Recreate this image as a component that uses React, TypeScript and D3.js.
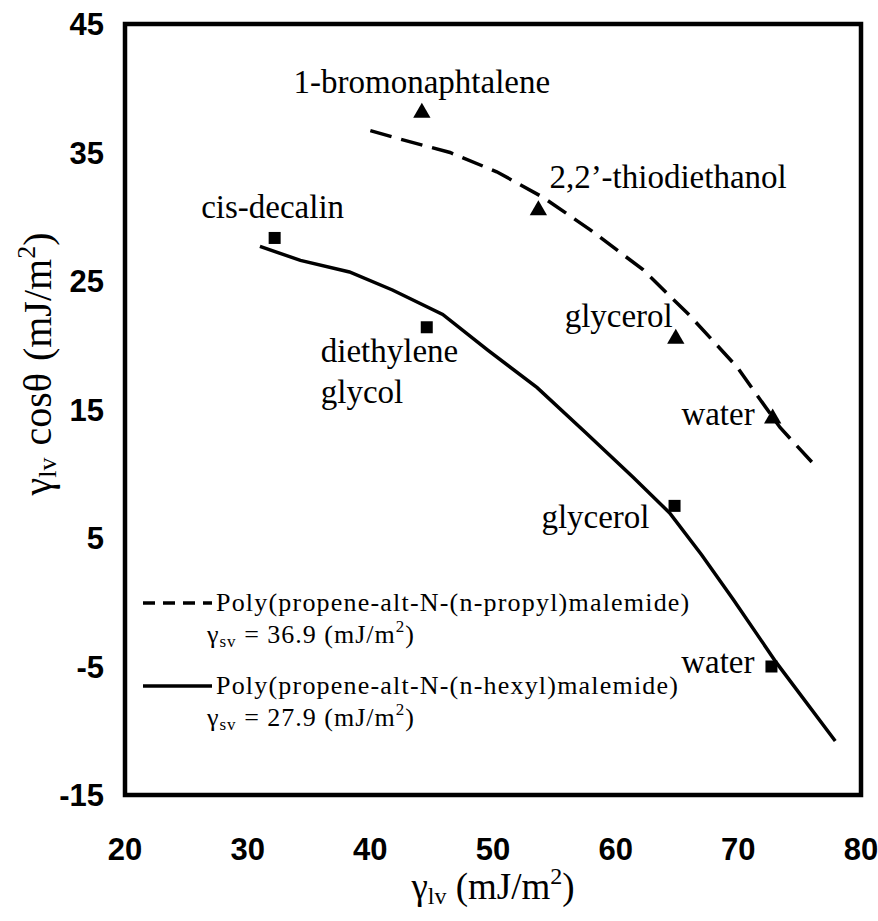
import React from "react";
import * as d3 from "d3";

const xTicks = [20, 30, 40, 50, 60, 70, 80];
const yTicks = [45, 35, 25, 15, 5, -5, -15];

// Poly(propene-alt-N-(n-propyl)malemide) fitted curve (dashed)
const propylCurveX = [40.0, 42.4, 46.5, 50.3, 54.1, 57.9, 62.2, 66.0, 69.9, 73.4, 76.0];
const propylCurveY = [36.7, 36.05, 35.0, 33.5, 31.5, 29.0, 25.9, 22.35, 18.3, 13.6, 10.9];

// Poly(propene-alt-N-(n-hexyl)malemide) fitted curve (solid)
const hexylCurveX = [31.0, 34.3, 38.3, 41.8, 45.9, 49.6, 53.6, 57.5, 61.4, 64.4, 67.0, 69.6, 73.1, 77.9];
const hexylCurveY = [27.7, 26.6, 25.7, 24.3, 22.4, 19.6, 16.7, 13.25, 9.75, 6.95, 3.7, 0.2, -4.7, -10.8];

// measured points
const propylLiquids = ["1-bromonaphtalene", "2,2\u2019-thiodiethanol", "glycerol", "water"];
const propylX = [44.2, 53.7, 64.9, 72.8];
const propylY = [38.1, 30.5, 20.5, 14.3];

const hexylLiquids = ["cis-decalin", "diethylene\nglycol", "glycerol", "water"];
const hexylX = [32.2, 44.6, 64.8, 72.7];
const hexylY = [28.35, 21.4, 7.5, -5.0];

const legendNames = [
  "Poly(propene-alt-N-(n-propyl)malemide)",
  "Poly(propene-alt-N-(n-hexyl)malemide)",
];
const legendGamma = ["36.9", "27.9"];

const W = 878;
const H = 921;
const L = 125, R = 861, T = 24, B = 795;

export default function App() {
  const x = d3.scaleLinear().domain([20, 80]).range([L, R]);
  const y = d3.scaleLinear().domain([-15, 45]).range([B, T]);
  const line = d3
    .line<[number, number]>()
    .x((d) => x(d[0]))
    .y((d) => y(d[1]))
    .curve(d3.curveLinear);

  const propylCurve = propylCurveX.map((v, i) => [v, propylCurveY[i]] as [number, number]);
  const hexylCurve = hexylCurveX.map((v, i) => [v, hexylCurveY[i]] as [number, number]);

  const serif = "'Liberation Serif', 'Times New Roman', 'DejaVu Serif', serif";
  const sans = "'Liberation Sans', Arial, sans-serif";
  const annFont = 33;

  // label placement (anchor, dx, dy) relative to each point
  const propylLabelPos: [string, number, number][] = [
    ["middle", 0, -20],
    ["start", 11, -22],
    ["end", -3, -12],
    ["end", -18, 7],
  ];
  const hexylLabelPos: [string, number, number][] = [
    ["middle", -2, -20],
    ["start", -106, 35],
    ["end", -25, 22],
    ["end", -17, 6],
  ];

  const tri = d3.symbol().type(d3.symbolTriangle).size(130)();

  return (
    <svg
      width={W}
      height={H}
      style={{ position: "absolute", left: 0, top: 0, background: "#fff" }}
    >
      <rect x={0} y={0} width={W} height={H} fill="#fff" />
      {/* curves */}
      <path
        d={line(propylCurve) || ""}
        fill="none"
        stroke="#000"
        strokeWidth={3.5}
        strokeDasharray="22 10"
      />
      <path d={line(hexylCurve) || ""} fill="none" stroke="#000" strokeWidth={3.5} />

      {/* markers */}
      {propylX.map((v, i) => (
        <path key={"t" + i} d={tri || ""} transform={`translate(${x(v)},${y(propylY[i])})`} fill="#000" />
      ))}
      {hexylX.map((v, i) => (
        <rect key={"s" + i} x={x(v) - 6} y={y(hexylY[i]) - 6} width={12} height={12} fill="#000" />
      ))}

      {/* annotations */}
      {propylLiquids.map((name, i) => {
        const [anchor, dx, dy] = propylLabelPos[i];
        return (
          <text
            key={"pl" + i}
            x={x(propylX[i]) + dx}
            y={y(propylY[i]) + dy}
            textAnchor={anchor as any}
            fontFamily={serif}
            fontSize={annFont}
          >
            {name}
          </text>
        );
      })}
      {hexylLiquids.map((name, i) => {
        const [anchor, dx, dy] = hexylLabelPos[i];
        const parts = name.split("\n");
        return (
          <text
            key={"hl" + i}
            x={x(hexylX[i]) + dx}
            y={y(hexylY[i]) + dy}
            textAnchor={anchor as any}
            fontFamily={serif}
            fontSize={annFont}
          >
            {parts.map((p, j) => (
              <tspan key={j} x={x(hexylX[i]) + dx} dy={j === 0 ? 0 : 41}>
                {p}
              </tspan>
            ))}
          </text>
        );
      })}

      {/* legend */}
      {legendNames.map((name, i) => {
        const ly = 603 + i * 83;
        return (
          <g key={"lg" + i}>
            <line
              x1={143}
              x2={212}
              y1={ly}
              y2={ly}
              stroke="#000"
              strokeWidth={3.5}
              strokeDasharray={i === 0 ? "12 8" : undefined}
            />
            <text x={216} y={ly + 8} fontFamily={serif} fontSize={26} letterSpacing={1.2}>
              {name}
            </text>
            <text x={207} y={ly + 40} fontFamily={serif} fontSize={26} letterSpacing={1}>
              {"\u03b3"}
              <tspan fontSize={17} dy={4}>sv</tspan>
              <tspan dy={-4}>{" = " + legendGamma[i] + " (mJ/m"}</tspan>
              <tspan fontSize={17} dy={-11}>2</tspan>
              <tspan dy={11}>)</tspan>
            </text>
          </g>
        );
      })}

      {/* frame */}
      <rect x={L} y={T} width={R - L} height={B - T} fill="none" stroke="#000" strokeWidth={4.5} />

      {/* tick labels */}
      {xTicks.map((t) => (
        <text
          key={"xt" + t}
          x={x(t)}
          y={860}
          textAnchor="middle"
          fontFamily={sans}
          fontWeight="bold"
          fontSize={31}
        >
          {t}
        </text>
      ))}
      {yTicks.map((t) => (
        <text
          key={"yt" + t}
          x={104}
          y={y(t) + 11}
          textAnchor="end"
          fontFamily={sans}
          fontWeight="bold"
          fontSize={31}
        >
          {t}
        </text>
      ))}

      {/* axis titles */}
      <text x={493} y={899} textAnchor="middle" fontFamily={serif} fontSize={37}>
        {"\u03b3"}
        <tspan fontSize={24} dy={5}>lv</tspan>
        <tspan dy={-5}>{" (mJ/m"}</tspan>
        <tspan fontSize={24} dy={-15}>2</tspan>
        <tspan dy={15}>)</tspan>
      </text>
      <text
        transform={`translate(51,364) rotate(-90)`}
        textAnchor="middle"
        fontFamily={serif}
        fontSize={40}
      >
        {"\u03b3"}
        <tspan fontSize={26} dy={5}>lv</tspan>
        <tspan dy={-5} dx={12}>{"cos\u03b8"}</tspan>
        <tspan dx={12}>{"(mJ/m"}</tspan>
        <tspan fontSize={26} dy={-16}>2</tspan>
        <tspan dy={16}>)</tspan>
      </text>
    </svg>
  );
}
